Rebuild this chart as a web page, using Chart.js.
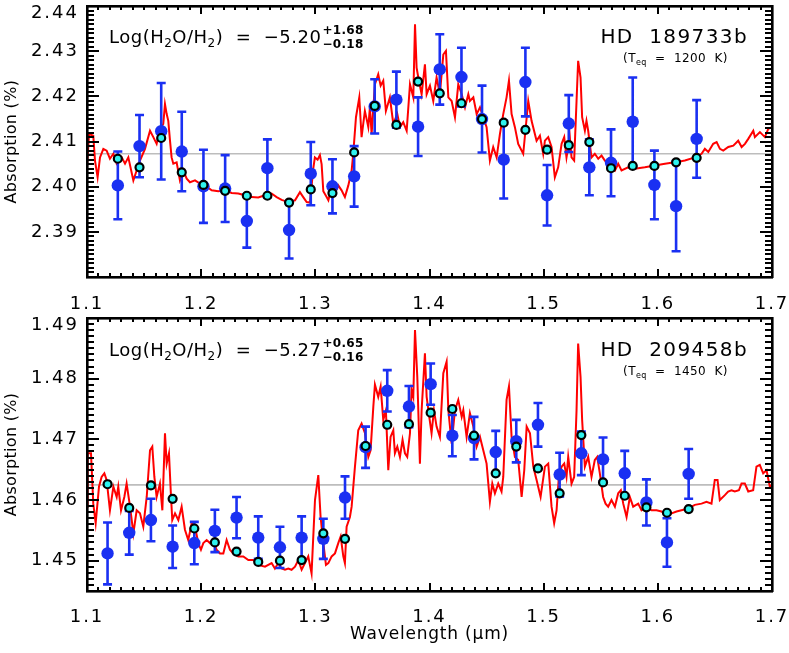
<!DOCTYPE html>
<html><head><meta charset="utf-8">
<script src="https://cdn.jsdelivr.net/npm/chart.js@4.4.1/dist/chart.umd.min.js"></script>
<style>
html,body{margin:0;padding:0;background:#fff;}
#wrap{position:relative;width:789px;height:653px;overflow:hidden;background:#fff;}
canvas{position:absolute;left:0;}
#c1{top:0;}
#c2{top:310px;}
</style></head><body>
<div id="wrap">
<canvas id="c1" width="789" height="310"></canvas>
<canvas id="c2" width="789" height="343"></canvas>
</div>
<script>
// ---------- axis / tick data ----------
const xTickVals = [1.1, 1.2, 1.3, 1.4, 1.5, 1.6, 1.7];
const yTickValsTop = [2.39, 2.40, 2.41, 2.42, 2.43, 2.44];
const yTickValsBot = [1.45, 1.46, 1.47, 1.48, 1.49];
const xRange = [1.1, 1.7];
const yRangeTop = [2.38, 2.44];
const yRangeBot = [1.445, 1.49];
const refLevelTop = 2.4073;
const refLevelBot = 1.4625;

// ---------- HD 189733b ----------
const binWaveTop = [1.127,1.146,1.165,1.183,1.202,1.221,1.240,1.258,1.277,1.296,1.315,1.334,1.352,1.371,1.390,1.409,1.428,1.446,1.465,1.484,1.503,1.522,1.540,1.559,1.578,1.597,1.616,1.634];
const obsTop = [2.4003,2.4090,2.4123,2.4078,2.4001,2.3996,2.3924,2.4041,2.3904,2.4029,2.4001,2.4023,2.4178,2.4193,2.4133,2.4260,2.4243,2.4150,2.4060,2.4232,2.3981,2.4140,2.4043,2.4053,2.4144,2.4004,2.3957,2.4106];
const errTop = [0.0075,0.0069,0.0107,0.0088,0.0081,0.0074,0.0059,0.0064,0.0063,0.0070,0.0060,0.0067,0.0060,0.0062,0.0065,0.0078,0.0065,0.0074,0.0086,0.0076,0.0067,0.0063,0.0062,0.0074,0.0098,0.0076,0.0100,0.0086];
const binModelTop = [2.4062,2.4043,2.4108,2.4032,2.4004,2.3991,2.3980,2.3980,2.3965,2.3994,2.3986,2.4076,2.4179,2.4137,2.4233,2.4207,2.4185,2.4150,2.4142,2.4126,2.4082,2.4092,2.4099,2.4041,2.4046,2.4046,2.4054,2.4064];
const specWaveTop = [1.1000,1.1018,1.1055,1.1070,1.1093,1.1114,1.1143,1.1172,1.1201,1.1231,1.1260,1.1304,1.1333,1.1362,1.1406,1.1435,1.1464,1.1508,1.1552,1.1581,1.1610,1.1639,1.1668,1.1683,1.1698,1.1712,1.1727,1.1741,1.1756,1.1785,1.1814,1.1844,1.1873,1.1902,1.1946,1.1990,1.2033,1.2092,1.2150,1.2208,1.2267,1.2325,1.2384,1.2442,1.2500,1.2559,1.2617,1.2661,1.2705,1.2763,1.2822,1.2865,1.2894,1.2924,1.2953,1.2982,1.2996,1.3020,1.3040,1.3055,1.3070,1.3099,1.3114,1.3143,1.3172,1.3201,1.3230,1.3259,1.3289,1.3318,1.3332,1.3356,1.3385,1.3405,1.3434,1.3464,1.3478,1.3493,1.3522,1.3551,1.3572,1.3595,1.3618,1.3653,1.3683,1.3718,1.3741,1.3770,1.3800,1.3829,1.3858,1.3873,1.3887,1.3902,1.3931,1.3960,1.3975,1.4004,1.4033,1.4062,1.4091,1.4121,1.4144,1.4165,1.4194,1.4223,1.4252,1.4282,1.4311,1.4340,1.4354,1.4384,1.4413,1.4442,1.4471,1.4500,1.4529,1.4558,1.4588,1.4617,1.4646,1.4675,1.4696,1.4719,1.4748,1.4777,1.4821,1.4865,1.4894,1.4938,1.4967,1.4996,1.5011,1.5040,1.5069,1.5098,1.5127,1.5157,1.5180,1.5200,1.5229,1.5244,1.5267,1.5288,1.5302,1.5323,1.5337,1.5361,1.5375,1.5390,1.5404,1.5419,1.5448,1.5478,1.5507,1.5536,1.5565,1.5594,1.5624,1.5653,1.5682,1.5740,1.5799,1.5886,1.5974,1.6062,1.6149,1.6237,1.6325,1.6383,1.6412,1.6442,1.6485,1.6515,1.6544,1.6573,1.6617,1.6661,1.6704,1.6734,1.6763,1.6792,1.6836,1.6850,1.6894,1.6938,1.6967,1.7000];
const specTop = [2.4043,2.4117,2.4113,2.4058,2.4021,2.4065,2.4084,2.4080,2.4062,2.4073,2.4051,2.4065,2.4051,2.4065,2.4014,2.4036,2.4058,2.4084,2.4124,2.4110,2.4095,2.4128,2.4139,2.4183,2.4161,2.4146,2.4102,2.4065,2.4051,2.4054,2.4014,2.4036,2.4018,2.4010,2.4014,2.4007,2.4003,2.3992,2.3990,2.3992,2.3986,2.3985,2.3981,2.3977,2.3976,2.3981,2.3985,2.3977,2.3971,2.3966,2.3970,2.3988,2.3977,2.3966,2.3965,2.4040,2.4065,2.4060,2.4070,2.4050,2.3990,2.3977,2.3970,2.3999,2.3985,2.4003,2.3992,2.3977,2.4003,2.4036,2.4073,2.4154,2.4198,2.4110,2.4168,2.4132,2.4176,2.4117,2.4227,2.4249,2.4224,2.4235,2.4168,2.4198,2.4139,2.4161,2.4132,2.4143,2.4124,2.4227,2.4198,2.4360,2.4264,2.4242,2.4205,2.4271,2.4205,2.4224,2.4190,2.4242,2.4205,2.4293,2.4301,2.4198,2.4190,2.4154,2.4227,2.4205,2.4176,2.4205,2.4190,2.4198,2.4161,2.4176,2.4154,2.4132,2.4058,2.4088,2.4065,2.4117,2.4161,2.4198,2.4235,2.4161,2.4132,2.4095,2.4073,2.4190,2.4146,2.4102,2.4113,2.4073,2.4102,2.4110,2.4088,2.4021,2.4043,2.4095,2.4110,2.4065,2.4110,2.4065,2.4058,2.4190,2.4279,2.4242,2.4154,2.4124,2.4146,2.4124,2.4095,2.4065,2.4073,2.4062,2.4069,2.4058,2.4051,2.4043,2.4036,2.4051,2.4036,2.4043,2.4040,2.4043,2.4047,2.4051,2.4054,2.4058,2.4065,2.4073,2.4084,2.4077,2.4095,2.4099,2.4084,2.4080,2.4088,2.4091,2.4102,2.4088,2.4095,2.4106,2.4124,2.4110,2.4121,2.4110,2.4128,2.4132];

// ---------- HD 209458b ----------
const binWaveBot = [1.118,1.137,1.156,1.175,1.194,1.212,1.231,1.250,1.269,1.288,1.307,1.326,1.344,1.363,1.382,1.401,1.420,1.439,1.458,1.476,1.495,1.514,1.533,1.552,1.571,1.590,1.608,1.627];
const obsBot = [1.4512,1.4546,1.4567,1.4523,1.4529,1.4549,1.4571,1.4538,1.4522,1.4538,1.4536,1.4604,1.4687,1.4780,1.4754,1.4791,1.4706,1.4702,1.4679,1.4697,1.4724,1.4642,1.4677,1.4667,1.4644,1.4596,1.4530,1.4643];
const errBot = [0.0051,0.0036,0.0035,0.0035,0.0035,0.0035,0.0034,0.0035,0.0034,0.0035,0.0033,0.0035,0.0034,0.0034,0.0034,0.0034,0.0034,0.0035,0.0035,0.0035,0.0036,0.0036,0.0036,0.0036,0.0037,0.0038,0.0040,0.0041];
const binModelBot = [1.4626,1.4587,1.4624,1.4602,1.4553,1.4530,1.4515,1.4498,1.4500,1.4501,1.4545,1.4536,1.4689,1.4724,1.4725,1.4744,1.4750,1.4706,1.4644,1.4688,1.4652,1.4611,1.4707,1.4629,1.4607,1.4588,1.4579,1.4585];
const specWaveBot = [1.1000,1.1006,1.1035,1.1055,1.1076,1.1105,1.1128,1.1152,1.1172,1.1201,1.1231,1.1260,1.1274,1.1298,1.1327,1.1347,1.1377,1.1406,1.1435,1.1464,1.1493,1.1523,1.1552,1.1572,1.1590,1.1610,1.1639,1.1660,1.1683,1.1698,1.1718,1.1736,1.1747,1.1771,1.1800,1.1829,1.1858,1.1887,1.1917,1.1946,1.1975,1.1998,1.2019,1.2048,1.2077,1.2106,1.2135,1.2165,1.2194,1.2223,1.2252,1.2281,1.2325,1.2369,1.2413,1.2457,1.2500,1.2559,1.2617,1.2646,1.2676,1.2705,1.2734,1.2763,1.2792,1.2822,1.2851,1.2880,1.2909,1.2938,1.2967,1.2997,1.3026,1.3046,1.3070,1.3093,1.3114,1.3143,1.3172,1.3201,1.3222,1.3245,1.3259,1.3274,1.3303,1.3318,1.3347,1.3376,1.3405,1.3435,1.3464,1.3484,1.3508,1.3522,1.3551,1.3572,1.3595,1.3618,1.3639,1.3659,1.3683,1.3697,1.3718,1.3741,1.3764,1.3785,1.3805,1.3829,1.3843,1.3858,1.3873,1.3893,1.3916,1.3931,1.3960,1.3975,1.3998,1.4018,1.4039,1.4062,1.4091,1.4121,1.4150,1.4165,1.4194,1.4223,1.4252,1.4282,1.4296,1.4325,1.4354,1.4384,1.4413,1.4442,1.4471,1.4500,1.4529,1.4550,1.4573,1.4602,1.4631,1.4646,1.4675,1.4696,1.4719,1.4748,1.4777,1.4807,1.4830,1.4851,1.4880,1.4909,1.4938,1.4973,1.5011,1.5040,1.5069,1.5092,1.5113,1.5133,1.5157,1.5180,1.5200,1.5215,1.5244,1.5267,1.5288,1.5302,1.5323,1.5337,1.5361,1.5390,1.5419,1.5448,1.5469,1.5492,1.5521,1.5542,1.5565,1.5594,1.5624,1.5653,1.5676,1.5697,1.5726,1.5755,1.5784,1.5828,1.5857,1.5901,1.5945,1.5988,1.6032,1.6076,1.6120,1.6164,1.6207,1.6266,1.6324,1.6383,1.6426,1.6470,1.6499,1.6523,1.6543,1.6587,1.6616,1.6645,1.6674,1.6710,1.6733,1.6762,1.6792,1.6835,1.6864,1.6893,1.6923,1.6952,1.6981,1.7000];
const specBot = [1.4589,1.4677,1.4677,1.4594,1.4562,1.4622,1.4638,1.4644,1.4633,1.4583,1.4622,1.4605,1.4622,1.4583,1.4605,1.4627,1.4589,1.4545,1.4583,1.4578,1.4556,1.4605,1.4682,1.4688,1.4638,1.4605,1.4627,1.4583,1.4710,1.4660,1.4677,1.4605,1.4567,1.4578,1.4567,1.4589,1.4551,1.4534,1.4562,1.4556,1.4529,1.4518,1.4529,1.4534,1.4529,1.4534,1.4518,1.4512,1.4512,1.4534,1.4518,1.4512,1.4507,1.4507,1.4501,1.4501,1.4493,1.4490,1.4496,1.4487,1.4496,1.4487,1.4485,1.4487,1.4485,1.4490,1.4501,1.4485,1.4496,1.4507,1.4479,1.4600,1.4641,1.4572,1.4529,1.4493,1.4496,1.4507,1.4512,1.4529,1.4540,1.4507,1.4496,1.4556,1.4572,1.4589,1.4655,1.4715,1.4726,1.4710,1.4671,1.4682,1.4754,1.4790,1.4770,1.4787,1.4732,1.4748,1.4649,1.4704,1.4715,1.4677,1.4688,1.4671,1.4699,1.4677,1.4671,1.4710,1.4781,1.4770,1.4880,1.4803,1.4660,1.4748,1.4842,1.4770,1.4737,1.4710,1.4748,1.4721,1.4704,1.4809,1.4828,1.4748,1.4693,1.4748,1.4765,1.4737,1.4748,1.4704,1.4743,1.4721,1.4688,1.4704,1.4682,1.4660,1.4597,1.4627,1.4611,1.4627,1.4614,1.4638,1.4765,1.4787,1.4704,1.4671,1.4666,1.4605,1.4649,1.4721,1.4710,1.4655,1.4633,1.4605,1.4655,1.4660,1.4589,1.4562,1.4583,1.4638,1.4655,1.4660,1.4638,1.4671,1.4627,1.4638,1.4748,1.4858,1.4803,1.4732,1.4655,1.4671,1.4638,1.4666,1.4671,1.4644,1.4605,1.4594,1.4589,1.4600,1.4589,1.4611,1.4616,1.4594,1.4572,1.4605,1.4589,1.4594,1.4583,1.4589,1.4583,1.4583,1.4581,1.4575,1.4578,1.4581,1.4583,1.4586,1.4592,1.4594,1.4597,1.4594,1.4633,1.4633,1.4600,1.4608,1.4614,1.4616,1.4614,1.4616,1.4627,1.4627,1.4614,1.4616,1.4655,1.4658,1.4644,1.4649,1.4622,1.4625];

// ---------- styling ----------
const FONT = '"DejaVu Sans", sans-serif';
const BLUE = '#1a30f2';
const CYAN = '#2ff2ee';
const RED = '#ff0000';
const GREY = '#bdbdbd';

function pts(xs, ys) { return xs.map((v, i) => ({x: v, y: ys[i]})); }
function yRangeOf(chart) { return chart.config.options.plugins.idlFrame.yRange; }

function drawPieces(ctx, x, y, pieces, spacing) {
  let cx = x;
  ctx.letterSpacing = spacing + 'px';
  pieces.forEach(p => {
    ctx.font = (p.bold ? 'bold ' : '') + p.s + 'px ' + FONT;
    ctx.fillText(p.t, cx, y + (p.dy || 0));
    cx += ctx.measureText(p.t).width;
  });
  return cx;
}

const framePlugin = {
  id: 'idlFrame',
  beforeUpdate(chart) { chart.ctx.letterSpacing = '2px'; },
  beforeDraw(chart) { chart.ctx.letterSpacing = '2px'; },
  beforeDatasetDraw(chart, args) {
    const info = chart.config.options.plugins.idlFrame;
    if (args.index !== 2) return;
    const ctx = chart.ctx; const xs = chart.scales.x, ys = chart.scales.y;
    ctx.save();
    ctx.strokeStyle = BLUE; ctx.lineWidth = 2.6; ctx.lineCap = 'butt';
    ctx.beginPath();
    info.wave.forEach((w, i) => {
      const px = xs.getPixelForValue(w);
      const t = ys.getPixelForValue(info.obs[i] + info.err[i]);
      const b = ys.getPixelForValue(info.obs[i] - info.err[i]);
      ctx.moveTo(px, t); ctx.lineTo(px, b);
      ctx.moveTo(px - 4.5, t); ctx.lineTo(px + 4.5, t);
      ctx.moveTo(px - 4.5, b); ctx.lineTo(px + 4.5, b);
    });
    ctx.stroke();
    ctx.restore();
  },
  afterDraw(chart) {
    const info = chart.config.options.plugins.idlFrame;
    const ctx = chart.ctx;
    const a = chart.chartArea;
    const xs = chart.scales.x, ys = chart.scales.y;
    ctx.save();
    ctx.letterSpacing = '0px';
    ctx.fillStyle = '#000';
    const L = Math.round(a.left), R = Math.round(a.right), T = Math.round(a.top), B = Math.round(a.bottom);
    // x ticks (inward, top and bottom)
    for (let i = 0; i <= 60; i++) {
      const v = xRange[0] + i * 0.01;
      const px = Math.round(xs.getPixelForValue(v));
      const len = (i % 10 === 0) ? 8 : 4;
      ctx.fillRect(px - 1, B - len, 2, len);
      ctx.fillRect(px - 1, T, 2, len);
    }
    // y ticks (inward, left and right)
    const yr = yRangeOf(chart);
    const n = Math.round((yr[1] - yr[0]) / 0.001);
    for (let i = 0; i <= n; i++) {
      const v = yr[0] + i * 0.001;
      const major = Math.abs(v * 100 - Math.round(v * 100)) < 1e-6;
      const py = Math.round(ys.getPixelForValue(v));
      const len = major ? 12 : 7;
      ctx.fillRect(L, py - 1, len, 2);
      ctx.fillRect(R - len, py - 1, len, 2);
    }
    // frame
    ctx.fillRect(L - 1, T - 1, R - L + 2, 2.6);
    ctx.fillRect(L - 1, B - 1, R - L + 2, 2.6);
    ctx.fillRect(L - 1, T - 1, 2.6, B - T + 2);
    ctx.fillRect(R - 1, T - 1, 2.6, B - T + 2);

    ctx.textBaseline = 'alphabetic';
    ctx.textAlign = 'left';
    // abundance annotation
    const bx = a.left + 22, by = a.top + info.textDy;
    let cx = drawPieces(ctx, bx, by, [
      {t: 'Log(H', s: 18}, {t: '2', s: 12, dy: 4}, {t: 'O/H', s: 18}, {t: '2', s: 12, dy: 4},
      {t: ')  =  \u2212' + info.val, s: 18}], 0.5);
    drawPieces(ctx, cx + 1, by - 9, [{t: info.up, s: 12, bold: true}], 0.3);
    drawPieces(ctx, cx + 1, by + 5, [{t: info.dn, s: 12, bold: true}], 0.3);

    // planet name
    ctx.letterSpacing = '1.4px';
    ctx.font = '20px ' + FONT;
    const nameW = ctx.measureText(info.name).width;
    ctx.fillText(info.name, a.right - 24 - nameW, by);
    // Teq
    const tx = a.right - 149;
    let c2 = drawPieces(ctx, tx, by + 19, [{t: '(T', s: 12}], 0.5);
    c2 = drawPieces(ctx, c2, by + 22, [{t: 'eq', s: 8}], 0.3);
    drawPieces(ctx, c2, by + 19, [{t: '  =  ' + info.teq + '  K)', s: 12}], 0.4);

    // y-axis title
    ctx.save();
    ctx.letterSpacing = '0.3px';
    ctx.font = '16px ' + FONT;
    ctx.textAlign = 'center'; ctx.textBaseline = 'middle';
    ctx.translate(12, (a.top + a.bottom) / 2);
    ctx.rotate(-Math.PI / 2);
    ctx.fillText('Absorption (%)', 0, 0);
    ctx.restore();

    if (info.xTitle) {
      ctx.letterSpacing = '0.8px';
      ctx.font = '17px ' + FONT;
      ctx.textAlign = 'center'; ctx.textBaseline = 'middle';
      ctx.fillText('Wavelength (\u03bcm)', (a.left + a.right) / 2, a.bottom + 44);
    }
    ctx.restore();
  }
};

function buildChart(id, o) {
  const canvas = document.getElementById(id);
  const topVal = o.yTicks[o.yTicks.length - 1];
  return new Chart(canvas.getContext('2d'), {
    type: 'scatter',
    data: {
      datasets: [
        {data: [{x: xRange[0], y: o.ref}, {x: xRange[1], y: o.ref}], showLine: true, borderColor: GREY, borderWidth: 1.6, pointRadius: 0, order: 4},
        {data: pts(o.specWave, o.spec), showLine: true, borderColor: RED, borderWidth: 2, pointRadius: 0, tension: 0, order: 3},
        {data: pts(o.binWave, o.obs), showLine: false, pointRadius: 6.2, pointBackgroundColor: BLUE, pointBorderWidth: 0, order: 2},
        {data: pts(o.binWave, o.binModel), showLine: false, pointRadius: 4, pointBackgroundColor: CYAN, pointBorderColor: '#000', pointBorderWidth: 2.2, order: 1}
      ]
    },
    options: {
      responsive: false, animation: false, devicePixelRatio: 1,
      layout: {padding: {left: 0, right: 17, top: o.padTop, bottom: 0}},
      plugins: {
        legend: {display: false}, tooltip: {enabled: false},
        idlFrame: {wave: o.binWave, obs: o.obs, err: o.err, name: o.name, teq: o.teq, val: o.val, up: o.up, dn: o.dn, textDy: o.textDy, xTitle: o.xTitle, yRange: o.yRange}
      },
      scales: {
        x: {
          type: 'linear', min: xRange[0], max: xRange[1],
          afterBuildTicks: s => { s.ticks = xTickVals.map(v => ({value: v})); },
          afterFit: s => { s.height = o.xHeight; s.paddingLeft = 0; s.paddingRight = 0; },
          grid: {display: false, drawTicks: false}, border: {display: false},
          ticks: {color: '#000', font: {family: FONT, size: 18}, padding: o.xPad, maxRotation: 0, autoSkip: false, callback: v => Number(v).toFixed(1)}
        },
        y: {
          type: 'linear', min: o.yRange[0], max: o.yRange[1],
          afterBuildTicks: s => { s.ticks = o.yTicks.map(v => ({value: v})); },
          afterFit: s => { s.width = 87; s.paddingTop = 0; s.paddingBottom = 0; },
          grid: {display: false, drawTicks: false}, border: {display: false},
          ticks: {color: '#000', font: {family: FONT, size: 18, lineHeight: 0.8}, padding: 8, autoSkip: false,
            callback: v => Math.abs(v - topVal) < 1e-9 ? ['', Number(v).toFixed(2)] : Number(v).toFixed(2)}
        }
      }
    },
    plugins: [framePlugin]
  });
}

buildChart('c1', {specWave: specWaveTop, spec: specTop, binWave: binWaveTop, obs: obsTop, err: errTop, binModel: binModelTop,
  ref: refLevelTop, yRange: yRangeTop, yTicks: yTickValsTop, padTop: 5, xHeight: 33, xPad: 17,
  name: 'HD  189733b', teq: '1200', val: '5.20', up: '+1.68', dn: '\u22120.18', textDy: 37, xTitle: false});
buildChart('c2', {specWave: specWaveBot, spec: specBot, binWave: binWaveBot, obs: obsBot, err: errBot, binModel: binModelBot,
  ref: refLevelBot, yRange: yRangeBot, yTicks: yTickValsBot, padTop: 8, xHeight: 62, xPad: 16,
  name: 'HD  209458b', teq: '1450', val: '5.27', up: '+0.65', dn: '\u22120.16', textDy: 38, xTitle: true});
</script>
</body></html>
